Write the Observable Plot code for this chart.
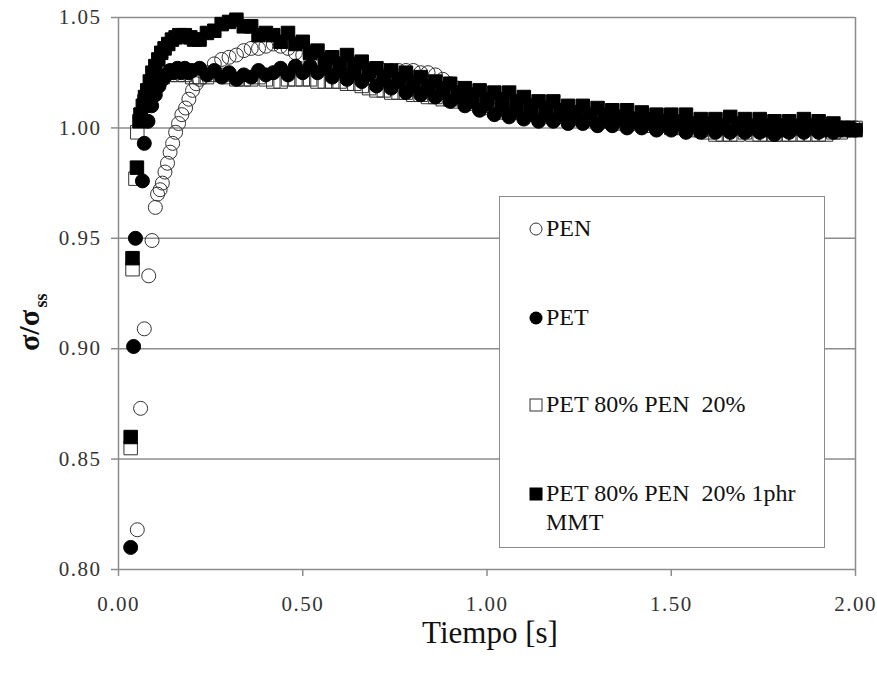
<!DOCTYPE html>
<html>
<head>
<meta charset="utf-8">
<script src="https://cdn.jsdelivr.net/npm/d3@7"></script>
<script src="https://cdn.jsdelivr.net/npm/@observablehq/plot@0.6"></script>
<style>
  html, body { margin: 0; padding: 0; background: #fff; }
  #wrap { position: relative; width: 877px; height: 675px;
          font-family: "Liberation Serif", "Tinos", "Times New Roman", "DejaVu Serif", serif; }
  #wrap svg [aria-label="x-axis tick label"], #wrap svg [aria-label="y-axis tick label"] { letter-spacing: 1.5px; }
  #legend { position: absolute; left: 499px; top: 196px; width: 326px; height: 352px; box-sizing: border-box;
            border: 1.5px solid #8c8c8c; background: #fff; font-size: 24px; color: #111; }
  .item { position: absolute; left: 29px; display: flex; align-items: flex-start; line-height: 29px; }
  .item svg { margin-top: 8px; margin-right: 3px; flex: none; }
</style>
</head>
<body>
<div id="wrap"></div>
<script>
// ---- tick values ----
const xTicks = [0, 0.5, 1.0, 1.5, 2.0];
const yTicks = [0.80, 0.85, 0.90, 0.95, 1.00, 1.05];

// ---- series names ----
const seriesNames = ["PEN", "PET", "PET 80% PEN  20%", "PET 80% PEN  20% 1phr MMT"];

// ---- early (start-up) points, read individually ----
const penT0 = [0.051,0.060,0.070,0.082,0.091,0.100,0.106,0.113,0.119,0.126,0.133,0.140,0.147,0.155,0.163,0.172,0.182,0.191,0.201,0.211];
const penY0 = [0.818,0.873,0.909,0.933,0.949,0.964,0.970,0.972,0.975,0.980,0.984,0.989,0.993,0.998,1.002,1.006,1.009,1.013,1.017,1.020];

const petT0 = [0.033,0.041,0.046,0.065,0.070,0.080,0.090,0.100,0.110,0.120,0.130,0.140,0.150,0.160,0.170,0.180,0.190,0.200];
const petY0 = [0.810,0.901,0.950,0.976,0.993,1.003,1.010,1.015,1.019,1.022,1.024,1.026,1.025,1.027,1.025,1.027,1.025,1.026];

const blendT0 = [0.033,0.038,0.046,0.051,0.060,0.070,0.080,0.090,0.100,0.120,0.140,0.160,0.180,0.200];
const blendY0 = [0.855,0.936,0.977,0.998,1.006,1.012,1.016,1.019,1.021,1.023,1.024,1.024,1.024,1.023];

const mmtT0 = [0.033,0.038,0.050,0.057,0.060,0.066,0.072,0.078,0.085,0.092,0.100,0.108,0.116,0.125,0.135,0.145,0.155,0.165,0.180,0.195,0.205];
const mmtY0 = [0.860,0.941,0.982,1.003,1.006,1.010,1.014,1.017,1.021,1.025,1.028,1.031,1.034,1.036,1.038,1.040,1.041,1.042,1.042,1.041,1.040];

// ---- common time grid for the rest of the record ----
const tiempo = [
  0.22,0.24,0.26,0.28,0.30,0.32,0.34,0.36,0.38,0.40,
  0.42,0.44,0.46,0.48,0.50,0.52,0.54,0.56,0.58,0.60,
  0.62,0.64,0.66,0.68,0.70,0.72,0.74,0.76,0.78,0.80,
  0.82,0.84,0.86,0.88,0.90,0.92,0.94,0.96,0.98,1.00,
  1.02,1.04,1.06,1.08,1.10,1.12,1.14,1.16,1.18,1.20,
  1.22,1.24,1.26,1.28,1.30,1.32,1.34,1.36,1.38,1.40,
  1.42,1.44,1.46,1.48,1.50,1.52,1.54,1.56,1.58,1.60,
  1.62,1.64,1.66,1.68,1.70,1.72,1.74,1.76,1.78,1.80,
  1.82,1.84,1.86,1.88,1.90,1.92,1.94,1.96,1.98,2.00];

const penY = [
  1.022,1.025,1.029,1.031,1.032,1.033,1.035,1.036,1.036,1.037,
  1.038,1.037,1.036,1.034,1.033,1.032,1.031,1.031,1.030,1.029,
  1.028,1.027,1.027,1.026,1.026,1.026,1.026,1.026,1.026,1.026,
  1.025,1.025,1.024,1.022,1.020,1.018,1.016,1.015,1.014,1.013,
  1.012,1.012,1.011,1.011,1.010,1.010,1.009,1.009,1.008,1.008,
  1.007,1.007,1.006,1.006,1.006,1.005,1.005,1.005,1.004,1.004,
  1.004,1.003,1.003,1.003,1.003,1.002,1.002,1.002,1.002,1.001,
  1.001,1.001,1.001,1.001,1.000,1.000,1.000,1.000,1.000,1.000,
  1.000,1.000,1.000,1.000,1.000,1.000,1.000,1.000,1.000,1.000];

const petY = [
  1.027,1.024,1.026,1.023,1.025,1.022,1.024,1.023,1.026,1.024,
  1.025,1.027,1.024,1.028,1.025,1.028,1.025,1.027,1.023,1.026,
  1.022,1.025,1.021,1.024,1.019,1.022,1.018,1.021,1.016,1.019,
  1.015,1.018,1.014,1.016,1.012,1.014,1.010,1.012,1.008,1.011,
  1.006,1.009,1.005,1.008,1.004,1.007,1.003,1.006,1.003,1.006,
  1.002,1.005,1.002,1.004,1.001,1.004,1.001,1.004,1.000,1.003,
  1.000,1.003,0.999,1.002,0.999,1.002,0.998,1.001,0.998,1.001,
  0.998,1.000,0.998,1.000,0.998,1.000,0.998,0.999,0.997,0.999,
  0.998,1.000,0.998,1.000,0.998,0.999,0.998,0.999,0.999,0.999];

const blendY = [
  1.023,1.023,1.024,1.024,1.023,1.022,1.022,1.022,1.023,1.022,
  1.021,1.021,1.022,1.022,1.022,1.022,1.021,1.021,1.021,1.021,
  1.020,1.020,1.019,1.018,1.017,1.017,1.016,1.016,1.016,1.015,
  1.015,1.014,1.014,1.013,1.013,1.012,1.012,1.011,1.010,1.009,
  1.008,1.007,1.007,1.007,1.007,1.006,1.006,1.006,1.005,1.005,
  1.005,1.004,1.004,1.004,1.003,1.003,1.003,1.002,1.002,1.002,
  1.002,1.001,1.001,1.001,1.000,1.000,1.000,0.999,0.999,0.998,
  0.997,0.997,0.997,0.997,0.998,0.997,0.997,0.997,0.997,0.997,
  0.997,0.997,0.997,0.997,0.997,0.997,0.998,0.998,0.999,1.000];

const mmtY = [
  1.040,1.043,1.044,1.047,1.048,1.049,1.046,1.046,1.042,1.043,
  1.042,1.039,1.043,1.038,1.039,1.034,1.035,1.031,1.032,1.029,
  1.033,1.029,1.030,1.026,1.027,1.023,1.026,1.022,1.025,1.021,
  1.023,1.019,1.021,1.018,1.020,1.016,1.018,1.015,1.017,1.013,
  1.016,1.013,1.016,1.012,1.014,1.010,1.012,1.009,1.012,1.008,
  1.010,1.007,1.010,1.006,1.009,1.006,1.008,1.005,1.008,1.004,
  1.007,1.004,1.006,1.003,1.006,1.003,1.006,1.002,1.004,1.002,
  1.004,1.001,1.005,1.002,1.004,1.001,1.004,1.001,1.003,1.001,
  1.003,1.001,1.004,1.001,1.003,1.001,1.002,1.000,1.000,0.999];

// ---- assemble rows ----
function rows(t0, y0, yGrid) {
  const r = t0.map((t, i) => ({t, y: y0[i]}));
  tiempo.forEach((t, i) => r.push({t, y: yGrid[i]}));
  return r;
}
const pen = rows(penT0, penY0, penY);
const pet = rows(petT0, petY0, petY);
const blend = rows(blendT0, blendY0, blendY);
const mmt = rows(mmtT0, mmtY0, mmtY);

const gray = "#8c8c8c";
const serif = "'Liberation Serif', 'Tinos', 'Times New Roman', 'DejaVu Serif', serif";
const chart = Plot.plot({
  width: 877,
  height: 675,
  marginLeft: 118,
  marginRight: 22,
  marginTop: 17,
  marginBottom: 106,
  style: {fontFamily: serif, background: "#fff", color: "#222"},
  x: {domain: [0, 2]},
  y: {domain: [0.80, 1.05]},
  marks: [
    Plot.gridY(yTicks, {stroke: gray, strokeOpacity: 1, strokeWidth: 1.5}),
    Plot.ruleX([0, 2], {stroke: gray, strokeWidth: 1.5}),
    Plot.axisY({ticks: yTicks, tickFormat: d => d.toFixed(2), tickSize: 7, tickPadding: 10, fontSize: 21,
                fontFamily: serif, stroke: gray, strokeWidth: 1.5, fill: "#333", label: null}),
    Plot.axisX({ticks: xTicks, tickFormat: d => d.toFixed(2), tickSize: 7, tickPadding: 20, fontSize: 21,
                fontFamily: serif, stroke: gray, strokeWidth: 1.5, fill: "#333", label: null}),
    Plot.dot(pen, {x: "t", y: "y", symbol: "circle", r: 7, fill: "none", stroke: "#333", strokeWidth: 1}),
    Plot.dot(blend, {x: "t", y: "y", symbol: "square", r: 7.6, fill: "none", stroke: "#333", strokeWidth: 1}),
    Plot.dot(pet, {x: "t", y: "y", symbol: "circle", r: 7, fill: "#000", stroke: "#000", strokeWidth: 1}),
    Plot.dot(mmt, {x: "t", y: "y", symbol: "square", r: 7.6, fill: "#000", stroke: "#000", strokeWidth: 1}),
    Plot.text(["Tiempo [s]"], {text: d => d, frameAnchor: "bottom", lineAnchor: "middle", dx: 3, dy: 64,
                               fontSize: 31, fontFamily: serif, fill: "#111"}),
    Plot.text(["σ/σ"], {text: d => d, frameAnchor: "left", textAnchor: "middle", lineAnchor: "middle",
                        dx: -89, dy: 37, rotate: -90, fontSize: 30, fontWeight: "bold", fontFamily: serif, fill: "#111"}),
    Plot.text(["ss"], {text: d => d, frameAnchor: "left", textAnchor: "middle", lineAnchor: "middle",
                       dx: -77, dy: 7, rotate: -90, fontSize: 18, fontWeight: "bold", fontFamily: serif, fill: "#111"})
  ]
});

const wrap = document.getElementById("wrap");
wrap.appendChild(chart);

// ---- legend (inside plot area, like the original) ----
const legend = document.createElement("div");
legend.id = "legend";
const markerSvg = [
  '<svg width="14" height="14"><circle cx="7" cy="7" r="6" fill="#fff" stroke="#333" stroke-width="1"/></svg>',
  '<svg width="14" height="14"><circle cx="7" cy="7" r="6.5" fill="#000"/></svg>',
  '<svg width="14" height="14"><rect x="1" y="1" width="12" height="12" fill="#fff" stroke="#333" stroke-width="1"/></svg>',
  '<svg width="14" height="14"><rect x="0.5" y="0.5" width="13" height="13" fill="#000"/></svg>'
];
const itemTops = [17, 106, 193, 282];
const labels = ["PEN", "PET", "PET 80% PEN&nbsp;&nbsp;20%", "PET 80% PEN&nbsp;&nbsp;20% 1phr<br>MMT"];
seriesNames.forEach((name, i) => {
  const it = document.createElement("div");
  it.className = "item";
  it.style.top = itemTops[i] + "px";
  it.innerHTML = markerSvg[i] + '<span>' + labels[i] + '</span>';
  legend.appendChild(it);
});
wrap.appendChild(legend);
</script>
</body>
</html>
